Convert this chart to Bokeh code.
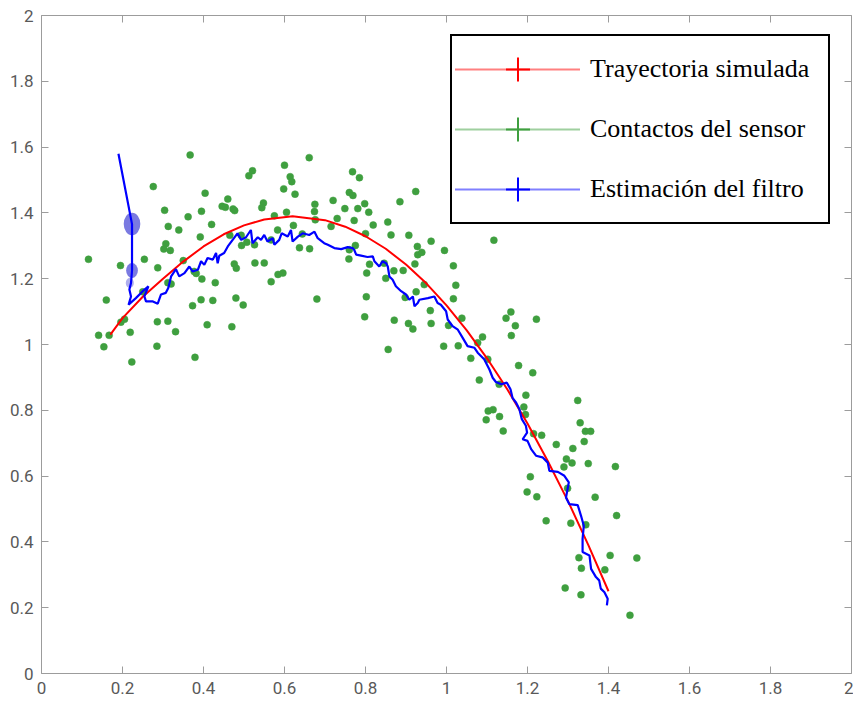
from bokeh.plotting import figure
from bokeh.models import (LinearAxis, FixedTicker, NumeralTickFormatter, Legend,
                          LegendItem, Range1d)
from bokeh.embed import file_html
from bokeh.resources import INLINE

# ---------------- data ----------------
# simulated trajectory (red)
traj_x = [0.17, 0.20, 0.25, 0.30, 0.35, 0.40, 0.45, 0.50, 0.55, 0.62, 0.70, 0.75, 0.80,
          0.85, 0.90, 0.95, 1.00, 1.05, 1.10, 1.15, 1.20, 1.25, 1.30, 1.35, 1.40]
traj_y = [1.03, 1.08, 1.145, 1.20, 1.252, 1.298, 1.335, 1.362, 1.38, 1.39, 1.378, 1.358, 1.329,
          1.291, 1.243, 1.186, 1.119, 1.043, 0.958, 0.864, 0.760, 0.646, 0.524, 0.391, 0.25]

# filter estimate (blue)
est_x = ([0.190, 0.2235, 0.2235, 0.221]
         + [0.217, 0.221, 0.215, 0.233, 0.250, 0.264, 0.254, 0.258, 0.275, 0.287, 0.295, 0.307, 0.313,
            0.320, 0.332, 0.340, 0.353, 0.365, 0.373, 0.386, 0.394, 0.402, 0.410, 0.423, 0.431, 0.435,
            0.439, 0.451, 0.460, 0.472, 0.484, 0.493, 0.505, 0.517, 0.521, 0.534, 0.542, 0.550, 0.558,
            0.571, 0.575, 0.587, 0.593, 0.608, 0.616, 0.620, 0.633, 0.645, 0.661, 0.674, 0.682, 0.698]
         + [0.707, 0.723, 0.740, 0.756, 0.768, 0.772, 0.777, 0.789, 0.805, 0.818, 0.822, 0.834, 0.842,
            0.851, 0.855, 0.859, 0.867, 0.875, 0.888, 0.900, 0.908, 0.917, 0.921, 0.929, 0.933, 0.954,
            0.970, 0.978, 0.986, 0.999, 1.003, 1.015, 1.028, 1.040, 1.052, 1.069, 1.077, 1.093, 1.106,
            1.114]
         + [1.122, 1.135, 1.149, 1.158, 1.163, 1.172, 1.180, 1.186, 1.196, 1.199, 1.188, 1.200, 1.209,
            1.221, 1.237, 1.250, 1.254, 1.275, 1.291, 1.302, 1.299]
         + [1.295, 1.303, 1.324, 1.332, 1.339, 1.336, 1.336, 1.353, 1.357, 1.369, 1.377, 1.381, 1.390,
            1.398, 1.396])
est_y = ([1.58, 1.366, 1.225, 1.187]
         + [1.167, 1.146, 1.121, 1.141, 1.162, 1.177, 1.146, 1.131, 1.131, 1.124, 1.152, 1.157, 1.172,
            1.207, 1.229, 1.207, 1.217, 1.237, 1.222, 1.227, 1.253, 1.242, 1.263, 1.258, 1.278, 1.247,
            1.270, 1.278, 1.298, 1.318, 1.338, 1.318, 1.326, 1.348, 1.308, 1.326, 1.318, 1.333, 1.313,
            1.323, 1.303, 1.318, 1.338, 1.328, 1.348, 1.313, 1.328, 1.338, 1.333, 1.343, 1.323, 1.308]
         + [1.303, 1.293, 1.290, 1.296, 1.293, 1.288, 1.273, 1.270, 1.266, 1.268, 1.253, 1.237, 1.253,
            1.247, 1.237, 1.207, 1.197, 1.177, 1.162, 1.152, 1.136, 1.146, 1.116, 1.126, 1.136, 1.141,
            1.146, 1.126, 1.121, 1.101, 1.076, 1.056, 1.045, 1.020, 0.995, 0.990, 0.975, 0.955, 0.924,
            0.899]
         + [0.886, 0.879, 0.884, 0.864, 0.838, 0.823, 0.803, 0.773, 0.753, 0.732, 0.712, 0.707, 0.682,
            0.662, 0.657, 0.641, 0.616, 0.613, 0.601, 0.581, 0.561]
         + [0.535, 0.515, 0.512, 0.480, 0.449, 0.409, 0.369, 0.359, 0.318, 0.293, 0.283, 0.258, 0.247,
            0.227, 0.207])

# covariance ellipses of the filter (blue, translucent)
ell_x = [0.2235, 0.2235, 0.218]
ell_y = [1.366, 1.225, 1.187]
ell_w = [0.041, 0.029, 0.020]
ell_h = [0.069, 0.046, 0.030]
ell_alpha = [0.58, 0.58, 0.35]

# sensor contacts (green)
meas_x = ([0.367, 0.661, 0.600, 0.521, 0.512, 0.614, 0.618, 0.276, 0.404, 0.598,
           0.626, 0.460, 0.446, 0.454, 0.473, 0.477, 0.548, 0.544, 0.675, 0.720,
           0.304, 0.395, 0.362, 0.674, 0.605, 0.575, 0.730, 0.676, 0.313, 0.339,
           0.420, 0.715, 0.583, 0.392, 0.622, 0.644, 0.465, 0.493, 0.507, 0.494,
           0.526, 0.567, 0.307, 0.302, 0.318, 0.637, 0.662, 0.254, 0.116, 0.195,
           0.287, 0.350, 0.476, 0.481, 0.527, 0.550, 0.377, 0.382, 0.396, 0.429,
           0.584, 0.596, 0.567, 0.312, 0.320, 0.160, 0.394, 0.423, 0.480, 0.498,
           0.373, 0.680, 0.205, 0.196, 0.286, 0.312, 0.219, 0.141, 0.167, 0.331,
           0.409, 0.470, 0.154, 0.285, 0.223, 0.379, 0.250]
          + [0.768, 0.785, 0.760, 0.769, 0.924, 0.885, 0.798, 0.749, 0.781, 0.808,
             0.772, 0.819, 0.855, 0.800, 0.863, 0.907, 0.962, 1.117, 0.928, 0.760,
             0.775, 0.759, 0.810, 0.846, 0.803, 0.870, 0.850, 0.802, 0.798, 0.871, 0.856]
          + [0.929, 0.939, 0.995, 0.922, 0.893, 1.017, 0.945, 1.023, 0.925, 0.898,
             1.017, 0.960, 1.038, 0.906, 0.917, 0.962, 0.993, 1.029, 1.005, 1.077,
             1.089, 1.060, 1.102, 1.081, 1.130, 1.159, 1.147, 1.170, 1.160, 1.222,
             1.178, 1.213, 1.196, 1.191, 1.195, 1.103, 1.115, 1.098, 1.131, 1.140,
             1.215, 1.235, 1.324, 1.330, 1.343, 1.356, 1.340, 1.271, 1.312, 1.296,
             1.290, 1.310, 1.350, 1.417, 1.207, 1.199, 1.223, 1.299, 1.367]
          + [1.420, 1.246, 1.307, 1.344, 1.404, 1.470, 1.327, 1.333, 1.391, 1.293, 1.332, 1.453])
meas_y = ([1.576, 1.568, 1.545, 1.528, 1.513, 1.510, 1.495, 1.480, 1.460, 1.473,
           1.457, 1.442, 1.420, 1.417, 1.412, 1.407, 1.430, 1.416, 1.426, 1.438,
           1.408, 1.405, 1.388, 1.404, 1.402, 1.391, 1.383, 1.379, 1.359, 1.348,
           1.365, 1.359, 1.348, 1.327, 1.362, 1.336, 1.332, 1.332, 1.311, 1.301,
           1.303, 1.318, 1.306, 1.290, 1.286, 1.294, 1.291, 1.259, 1.259, 1.240,
           1.233, 1.255, 1.245, 1.232, 1.248, 1.248, 1.222, 1.216, 1.199, 1.188,
           1.213, 1.217, 1.191, 1.188, 1.184, 1.135, 1.136, 1.134, 1.141, 1.120,
           1.118, 1.138, 1.077, 1.068, 1.069, 1.071, 1.037, 1.028, 1.028, 1.039,
           1.060, 1.054, 0.993, 0.995, 0.947, 0.961, 1.160]
          + [1.525, 1.507, 1.462, 1.453, 1.465, 1.434, 1.428, 1.413, 1.413, 1.402,
             1.377, 1.363, 1.372, 1.337, 1.333, 1.332, 1.314, 1.317, 1.298, 1.288,
             1.301, 1.260, 1.244, 1.247, 1.217, 1.224, 1.201, 1.145, 1.084, 1.074, 0.985]
          + [1.273, 1.280, 1.286, 1.245, 1.225, 1.239, 1.182, 1.180, 1.160, 1.143,
             1.139, 1.103, 1.080, 1.064, 1.047, 1.064, 0.995, 0.996, 1.058, 1.005,
             1.023, 0.958, 0.955, 0.892, 0.879, 1.099, 1.080, 1.057, 1.027, 1.077,
             0.936, 0.914, 0.846, 0.810, 0.787, 0.798, 0.802, 0.771, 0.781, 0.737,
             0.729, 0.724, 0.830, 0.762, 0.736, 0.736, 0.705, 0.696, 0.684, 0.652,
             0.628, 0.640, 0.638, 0.629, 0.598, 0.552, 0.537, 0.563, 0.536]
          + [0.480, 0.464, 0.457, 0.452, 0.359, 0.351, 0.352, 0.320, 0.315, 0.260, 0.239, 0.177])

ticks = [0, 0.2, 0.4, 0.6, 0.8, 1.0, 1.2, 1.4, 1.6, 1.8, 2.0]
labels = ["Trayectoria simulada", "Contactos del sensor", "Estimación del filtro"]
RED, GREEN, BLUE = "#ff0000", "#3f9f3f", "#0000ff"

# ---------------- figure ----------------
p = figure(width=853, height=702, x_range=Range1d(0, 2), y_range=Range1d(0, 2),
           output_backend="svg", toolbar_location=None,
           min_border_left=41, min_border_right=2, min_border_top=15, min_border_bottom=29,
           background_fill_color="white", border_fill_color="white")
p.outline_line_color = None
p.xgrid.visible = False
p.ygrid.visible = False

AX = "#9c9c9c"


def style(ax, show):
    ax.ticker = FixedTicker(ticks=ticks)
    ax.formatter = NumeralTickFormatter(format="0.[0]")
    ax.axis_line_color = AX
    ax.axis_line_width = 1
    ax.major_tick_line_color = AX
    ax.major_tick_in = 7
    ax.major_tick_out = 0
    ax.minor_tick_line_color = None
    ax.major_label_text_font = "Roboto"
    if show:
        ax.major_label_text_font_size = "17px"
        ax.major_label_text_color = "#595959"
    else:
        ax.major_label_text_font_size = "0px"
        ax.major_label_text_color = None
        ax.major_label_standoff = 0


style(p.xaxis[0], True)
style(p.yaxis[0], True)
p.xaxis[0].major_label_standoff = 8
p.yaxis[0].major_label_standoff = 8

top_ax = LinearAxis()
style(top_ax, False)
p.add_layout(top_ax, "above")
right_ax = LinearAxis()
style(right_ax, False)
p.add_layout(right_ax, "right")

# sensor contacts
p.scatter(meas_x, meas_y, size=7, fill_color=GREEN, line_color=GREEN, line_width=0.5)

# covariance ellipses
p.ellipse(x=ell_x, y=ell_y, width=ell_w, height=ell_h, fill_color="#1a1acc",
          fill_alpha=ell_alpha, line_color=None)

# trajectory and estimate
p.line(traj_x, traj_y, line_color=RED, line_width=2)
p.line(est_x, est_y, line_color=BLUE, line_width=2.2)

# legend glyphs: dotted line with a cross marker (renderers with no visible data)
NAN = float("nan")
items = []
for lbl, c in zip(labels, [RED, GREEN, BLUE]):
    lr = p.line([NAN], [NAN], line_color=c, line_width=2, line_dash="1 1")
    mr = p.scatter([NAN], [NAN], marker="cross", size=24, line_color=c, line_width=2)
    items.append(LegendItem(label=lbl, renderers=[lr, mr]))

legend = Legend(items=items, location=(409, 449), orientation="vertical",
                padding=3, spacing=0, margin=0,
                glyph_width=125, glyph_height=60, label_height=60, label_width=235,
                label_standoff=10,
                label_text_font="Liberation Serif", label_text_font_size="26px",
                label_text_color="black", label_text_baseline="middle",
                border_line_color="black", border_line_width=2.5, border_line_alpha=1.0,
                background_fill_color="white", background_fill_alpha=1.0)
p.add_layout(legend)

open("out.html", "w").write(file_html(p, INLINE))
